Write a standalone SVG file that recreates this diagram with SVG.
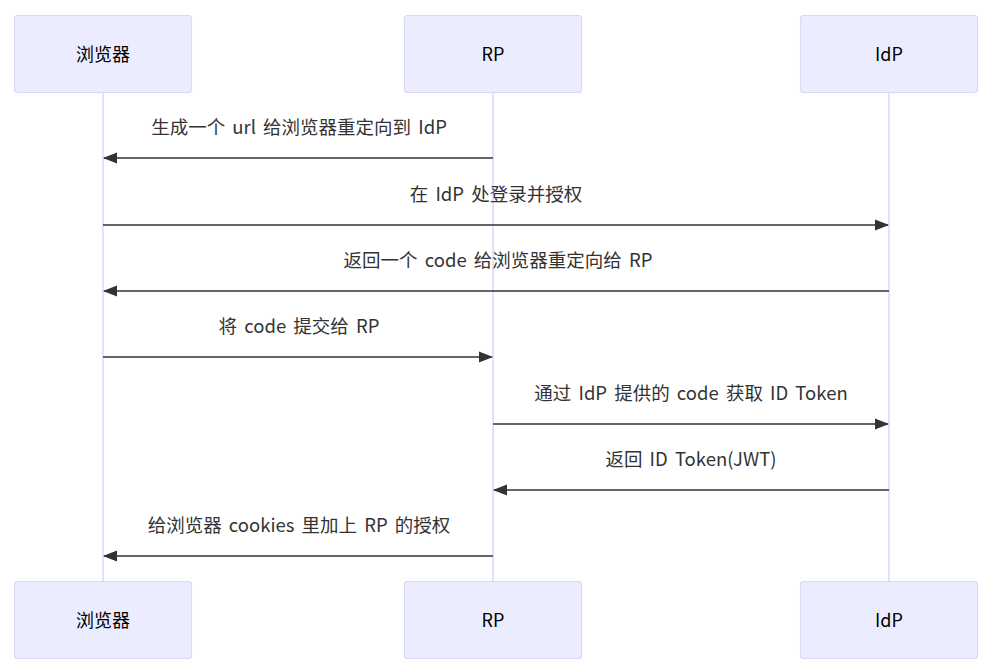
<svg xmlns="http://www.w3.org/2000/svg" width="1002" height="672" viewBox="0 0 1002 672">
<defs>
<style>
.actor{fill:#ECECFF;stroke:#DCD6F7;stroke-width:1.2}
.life{stroke:#DCD6F7;stroke-width:1.5}
.atext{font-family:"Noto Sans CJK SC","Noto Sans",sans-serif;font-size:18px;fill:#000;text-anchor:middle;dominant-baseline:central}
.msg{stroke:#333;stroke-width:1.6;fill:none}
.mtext{font-family:"Noto Sans CJK SC","Noto Sans",sans-serif;font-size:18.5px;word-spacing:3px;fill:#333;text-anchor:middle;dominant-baseline:central}
</style>
<marker id="ah" markerWidth="14" markerHeight="14" viewBox="0 0 14 14" refX="13" refY="7" orient="auto" markerUnits="userSpaceOnUse">
<path d="M0,1.5 L14,7 L0,12.5 z" fill="#333"/>
</marker>
</defs>
<rect width="1002" height="672" fill="#fff"/>
<g id="lifelines">
<line class="life" x1="103" y1="92" x2="103" y2="581"/>
<line class="life" x1="493" y1="92" x2="493" y2="581"/>
<line class="life" x1="889" y1="92" x2="889" y2="581"/>
</g>
<g id="actor-browser-top"><rect class="actor" x="14.5" y="15.5" width="177" height="77" rx="3"/><text class="atext" x="103" y="53">浏览器</text></g>
<g id="actor-rp-top"><rect class="actor" x="404.5" y="15.5" width="177" height="77" rx="3"/><text class="atext" x="493" y="53">RP</text></g>
<g id="actor-idp-top"><rect class="actor" x="800.5" y="15.5" width="177" height="77" rx="3"/><text class="atext" x="889" y="53">IdP</text></g>
<g id="actor-browser-bottom"><rect class="actor" x="14.5" y="581.5" width="177" height="77" rx="3"/><text class="atext" x="103" y="619">浏览器</text></g>
<g id="actor-rp-bottom"><rect class="actor" x="404.5" y="581.5" width="177" height="77" rx="3"/><text class="atext" x="493" y="619">RP</text></g>
<g id="actor-idp-bottom"><rect class="actor" x="800.5" y="581.5" width="177" height="77" rx="3"/><text class="atext" x="889" y="619">IdP</text></g>
<g id="connectors">
<line class="msg" x1="493" y1="158" x2="104" y2="158" marker-end="url(#ah)"/>
<line class="msg" x1="103" y1="225" x2="888" y2="225" marker-end="url(#ah)"/>
<line class="msg" x1="889" y1="291" x2="104" y2="291" marker-end="url(#ah)"/>
<line class="msg" x1="103" y1="357" x2="492" y2="357" marker-end="url(#ah)"/>
<line class="msg" x1="493" y1="424" x2="888" y2="424" marker-end="url(#ah)"/>
<line class="msg" x1="889" y1="490" x2="494" y2="490" marker-end="url(#ah)"/>
<line class="msg" x1="493" y1="556" x2="104" y2="556" marker-end="url(#ah)"/>
</g>
<g id="labels">
<text class="mtext" x="299" y="126">生成一个 url 给浏览器重定向到 IdP</text>
<text class="mtext" x="496" y="193">在 IdP 处登录并授权</text>
<text class="mtext" x="498" y="259">返回一个 code 给浏览器重定向给 RP</text>
<text class="mtext" x="299" y="325">将 code 提交给 RP</text>
<text class="mtext" x="691" y="392">通过 IdP 提供的 code 获取 ID Token</text>
<text class="mtext" x="691" y="458">返回 ID Token(JWT)</text>
<text class="mtext" x="299" y="524">给浏览器 cookies 里加上 RP 的授权</text>
</g>
</svg>
